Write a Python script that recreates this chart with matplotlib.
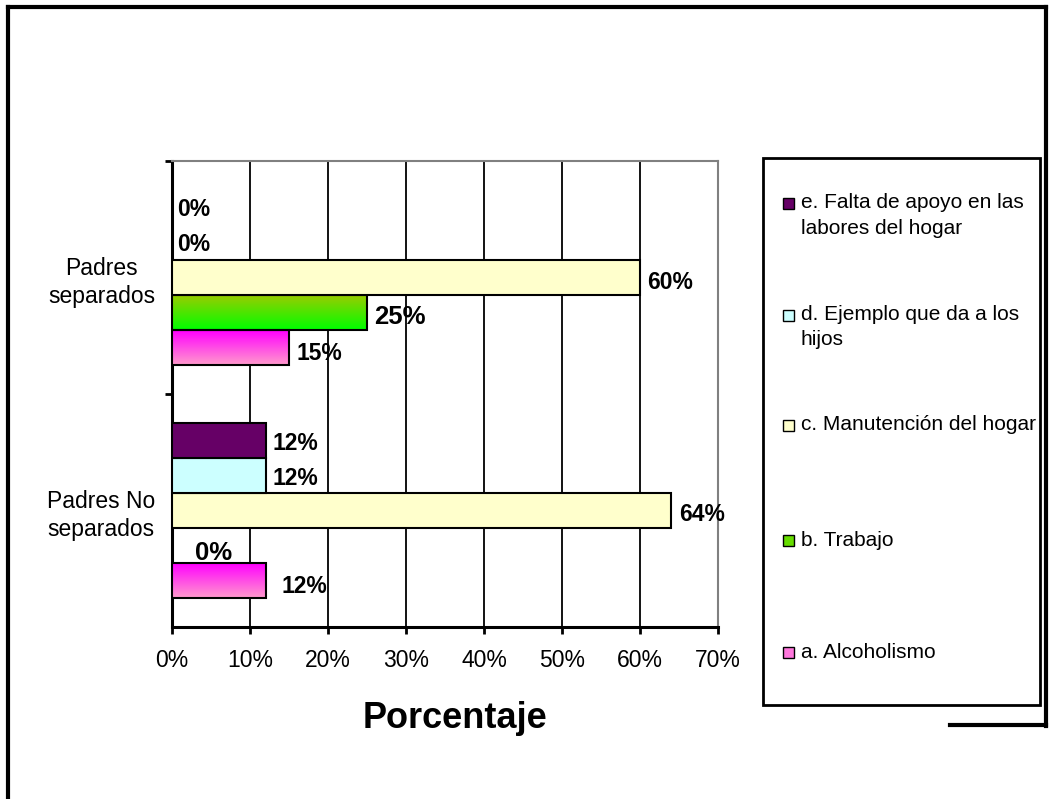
import numpy as np
import matplotlib
matplotlib.use('Agg')
import matplotlib.pyplot as plt
from matplotlib.colors import LinearSegmentedColormap
from matplotlib.lines import Line2D
from matplotlib.patches import Rectangle

plt.rcParams['font.family'] = ['Liberation Sans', 'DejaVu Sans']

# ----------------------------------------------------------------
# Data (group order: bottom -> top)
# ----------------------------------------------------------------
groups = ['Padres No\nseparados', 'Padres\nseparados']
series_names = [
    'a. Alcoholismo',
    'b. Trabajo',
    'c. Manutención del hogar',
    'd. Ejemplo que da a los\nhijos',
    'e. Falta de apoyo en las\nlabores del hogar',
]
alcoholismo = [12, 15]
trabajo = [0, 25]
manutencion = [64, 60]
ejemplo = [12, 0]
falta_apoyo = [12, 0]
series_values = [alcoholismo, trabajo, manutencion, ejemplo, falta_apoyo]
x_ticks = [0, 10, 20, 30, 40, 50, 60, 70]

# solid colour or (bottom, top) gradient
series_fill = [
    ('#FF99CC', '#FF00FF'),
    ('#00FF00', '#99CC00'),
    '#FFFFCC',
    '#CCFFFF',
    '#660066',
]
legend_swatch = ['#FF77DD', '#66DD00', '#FFFFCC', '#CCFFFF', '#660066']

# label nudges in pixels (dx right, dy down), per series then per group
label_dx = [[16, 8], [23, 7], [8, 7], [7, 5], [7, 5]]
label_dy = [[6, 6], [8, 5], [4, 5], [3, 2], [3, 2]]
label_size = [[16.5, 16.5], [18.5, 18.5], [16.5, 16.5], [16.5, 16.5], [16.5, 16.5]]

W, H = 1052, 799
fig = plt.figure(figsize=(W / 100, H / 100), dpi=100)


def fx(px):
    return px / W


def fy(py):
    return 1 - py / H


ax_l, ax_r, ax_t, ax_b = 172, 718, 161, 627
ax = fig.add_axes([fx(ax_l), fy(ax_b), fx(ax_r - ax_l), (ax_b - ax_t) / H])


def gradient_fill(ax, bar, bottom_color, top_color):
    w = bar.get_width()
    if w <= 0:
        return
    x0, y0, h = bar.get_x(), bar.get_y(), bar.get_height()
    cmap = LinearSegmentedColormap.from_list('grad', [bottom_color, top_color])
    grad = np.linspace(0, 1, 64).reshape(-1, 1)
    im = ax.imshow(grad, cmap=cmap, extent=[x0, x0 + w, y0, y0 + h],
                   origin='lower', aspect='auto', interpolation='bilinear',
                   zorder=bar.get_zorder() - 0.1)
    im.set_clip_path(bar)


bar_h = 0.15
y_base = np.arange(len(groups))
for i, (vals, fill) in enumerate(zip(series_values, series_fill)):
    offs = (i - 2) * bar_h
    if isinstance(fill, tuple):
        bars = ax.barh(y_base + offs, vals, height=bar_h, facecolor='none',
                       edgecolor='black', linewidth=1.5, zorder=3)
        for b in bars:
            gradient_fill(ax, b, fill[0], fill[1])
    else:
        bars = ax.barh(y_base + offs, vals, height=bar_h, color=fill,
                       edgecolor='black', linewidth=1.5, zorder=3)
    for j, (b, v) in enumerate(zip(bars, vals)):
        ax.annotate(f'{v}%', xy=(v, b.get_y() + bar_h / 2),
                    xytext=(label_dx[i][j], -label_dy[i][j]),
                    textcoords='offset pixels', ha='left', va='center',
                    fontsize=label_size[i][j], fontweight='bold', zorder=5)

ax.set_xlim(0, 70)
ax.set_ylim(-0.5, 1.5)
ax.set_xticks(x_ticks)
ax.set_xticklabels([f'{t}%' for t in x_ticks], fontsize=16.5)
ax.tick_params(axis='x', direction='out', length=5, width=2, pad=11)

ax.set_yticks([0.5, 1.5])
ax.set_yticklabels([])
ax.tick_params(axis='y', which='major', direction='out', length=5, width=2)
ax.set_yticks(y_base, minor=True)
ax.set_yticklabels(groups, minor=True, fontsize=16.5, multialignment='center',
                   linespacing=1.3)
ax.tick_params(axis='y', which='minor', length=0, pad=12)

ax.grid(axis='x', color='black', linewidth=1.3)
ax.set_axisbelow(True)
for side in ['left', 'bottom']:
    ax.spines[side].set_linewidth(2.2)
    ax.spines[side].set_color('black')
for side in ['top', 'right']:
    ax.spines[side].set_linewidth(1.5)
    ax.spines[side].set_color('#808080')

fig.text(fx(455), fy(718), 'Porcentaje', fontsize=26, fontweight='bold',
         ha='center', va='center')

# ----------------------------------------------------------------
# Legend box (drawn by hand, top entry = e)
# ----------------------------------------------------------------
fig.patches.append(Rectangle((fx(763), fy(705)), fx(1040 - 763), (705 - 158) / H,
                             transform=fig.transFigure, facecolor='none',
                             edgecolor='black', linewidth=2.0))
entry_y = [652, 540, 425, 315, 203]
for name, sw, ey in zip(series_names, legend_swatch, entry_y):
    fig.patches.append(Rectangle((fx(783), fy(ey + 5.5)), fx(11), 11 / H,
                                 transform=fig.transFigure, facecolor=sw,
                                 edgecolor='black', linewidth=1.0))
    for k, line in enumerate(name.split('\n')):
        fig.text(fx(801), fy(ey + 25 * k), line, fontsize=15,
                 ha='left', va='center')

# outer chart frame
for xs, ys in [([8, 8], [7, 799]), ([8, 1046], [7, 7]),
               ([1046, 1046], [7, 726]), ([950, 1046], [725, 725])]:
    fig.add_artist(Line2D([fx(x) for x in xs], [fy(y) for y in ys],
                          color='black', linewidth=3.0,
                          transform=fig.transFigure))

fig.savefig('out.png', dpi=100)
plt.close(fig)
